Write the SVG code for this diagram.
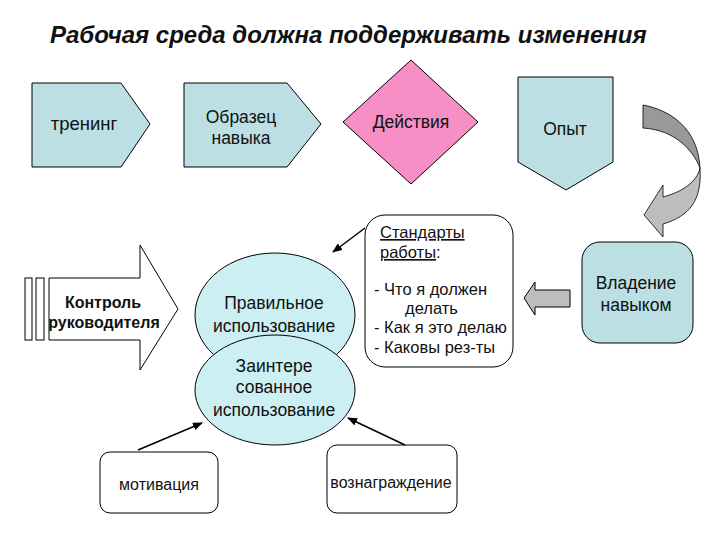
<svg xmlns="http://www.w3.org/2000/svg" width="720" height="540" viewBox="0 0 720 540">
<style>
text{font-family:"Liberation Sans",Arial,sans-serif;fill:#111}
.t{font-size:17.5px;text-anchor:middle}
.s{font-size:16.5px}
.blue{fill:#BBDFE3;stroke:#000;stroke-width:1}
.ell{fill:#CCEFF3;stroke:#000;stroke-width:1}
.box{fill:#fff;stroke:#000;stroke-width:1}
.ln{stroke:#000;stroke-width:1.5;fill:none;marker-end:url(#ah)}
</style>
<defs>
<marker id="ah" markerWidth="10" markerHeight="8" refX="9" refY="4" orient="auto" markerUnits="userSpaceOnUse">
<path d="M0,0 L10,4 L0,8 Z" fill="#000"/>
</marker>
</defs>
<rect width="720" height="540" fill="#fff"/>
<text x="50" y="43" style="font-size:24px;font-weight:bold;font-style:italic">Рабочая среда должна поддерживать изменения</text>

<g id="trening">
<path class="blue" d="M32,83 L121,83 L150,124 L121,167 L32,167 Z"/>
<text class="t" x="84" y="130" style="font-size:18.5px">тренинг</text>
</g>
<g id="obrazec">
<path class="blue" d="M184,83 L287,83 L321,124 L287,167 L184,167 Z"/>
<text class="t" x="241" y="123">Образец</text>
<text class="t" x="241" y="144">навыка</text>
</g>
<g id="deistvia">
<path d="M411,60 L478,122 L411,184 L343,122 Z" fill="#F78FC6" stroke="#000"/>
<text class="t" x="411" y="128">Действия</text>
</g>
<g id="opyt">
<path class="blue" d="M518,77 L613,77 L613,162 L566,190 L518,162 Z"/>
<text class="t" x="565" y="135">Опыт</text>
</g>
<g id="curved-arrow">
<path d="M643,105 C670,110 698,128 700,168 C693,150 675,130 643,128 Z" fill="#999" stroke="#000" stroke-width="0.8"/>
<path d="M700,168 C702,200 690,216 663,224 L663,237 L644,215 L663,185 L663,197 C682,192 697,182 700,168 Z" fill="#BDBDBD" stroke="#000" stroke-width="0.8"/>
</g>
<g id="standarty">
<rect class="box" x="365" y="215" width="148" height="152" rx="20"/>
<text class="s" x="380" y="238" text-decoration="underline">Стандарты</text>
<text class="s" x="380" y="258"><tspan text-decoration="underline">работы</tspan>:</text>
<text class="s" x="374" y="295">- Что я должен</text>
<text class="s" x="405" y="314">делать</text>
<text class="s" x="374" y="333">- Как я это делаю</text>
<text class="s" x="374" y="353">- Каковы рез-ты</text>
</g>
<g id="vladenie">
<rect x="582" y="242" width="111" height="101" rx="18" fill="#BBDFE3" stroke="#000"/>
<text class="t" x="636" y="289">Владение</text>
<text class="t" x="636" y="311">навыком</text>
</g>
<g id="gray-arrow">
<path d="M570,290 L535,290 L535,282 L524,298 L535,315 L535,307 L570,307 Z" fill="#BDBDBD" stroke="#000"/>
</g>
<g id="kontrol">
<rect x="25" y="278" width="7" height="62" fill="#fff" stroke="#000"/>
<rect x="36" y="278" width="8" height="62" fill="#fff" stroke="#000"/>
<path d="M49,278 L140,278 L140,245 L178,309 L140,370 L140,340 L49,340 Z" fill="#fff" stroke="#000"/>
<text class="t" x="103" y="308" style="font-size:16px;font-weight:bold">Контроль</text>
<text class="t" x="104" y="328" style="font-size:16px;font-weight:bold">руководителя</text>
</g>
<g id="pravilnoe">
<ellipse class="ell" cx="275" cy="315" rx="80" ry="62"/>
<text class="t" x="274" y="309">Правильное</text>
<text class="t" x="274" y="332">использование</text>
</g>
<g id="zainteresovannoe">
<ellipse class="ell" cx="275" cy="390" rx="80" ry="55"/>
<text class="t" x="274" y="372">Заинтере</text>
<text class="t" x="274" y="393">сованное</text>
<text class="t" x="274" y="416">использование</text>
</g>
<g id="motivacia">
<rect class="box" x="100" y="452" width="118" height="61" rx="10"/>
<text class="t" x="159" y="490" style="font-size:16px">мотивация</text>
</g>
<g id="voznagrazhdenie">
<rect class="box" x="327" y="445" width="130" height="68" rx="10"/>
<text class="t" x="391" y="488" style="font-size:16px">вознаграждение</text>
</g>
<g id="connectors">
<line class="ln" x1="365" y1="228" x2="333" y2="252"/>
<line class="ln" x1="138" y1="450" x2="202" y2="423"/>
<line class="ln" x1="405" y1="445" x2="348" y2="418"/>
</g>
</svg>
